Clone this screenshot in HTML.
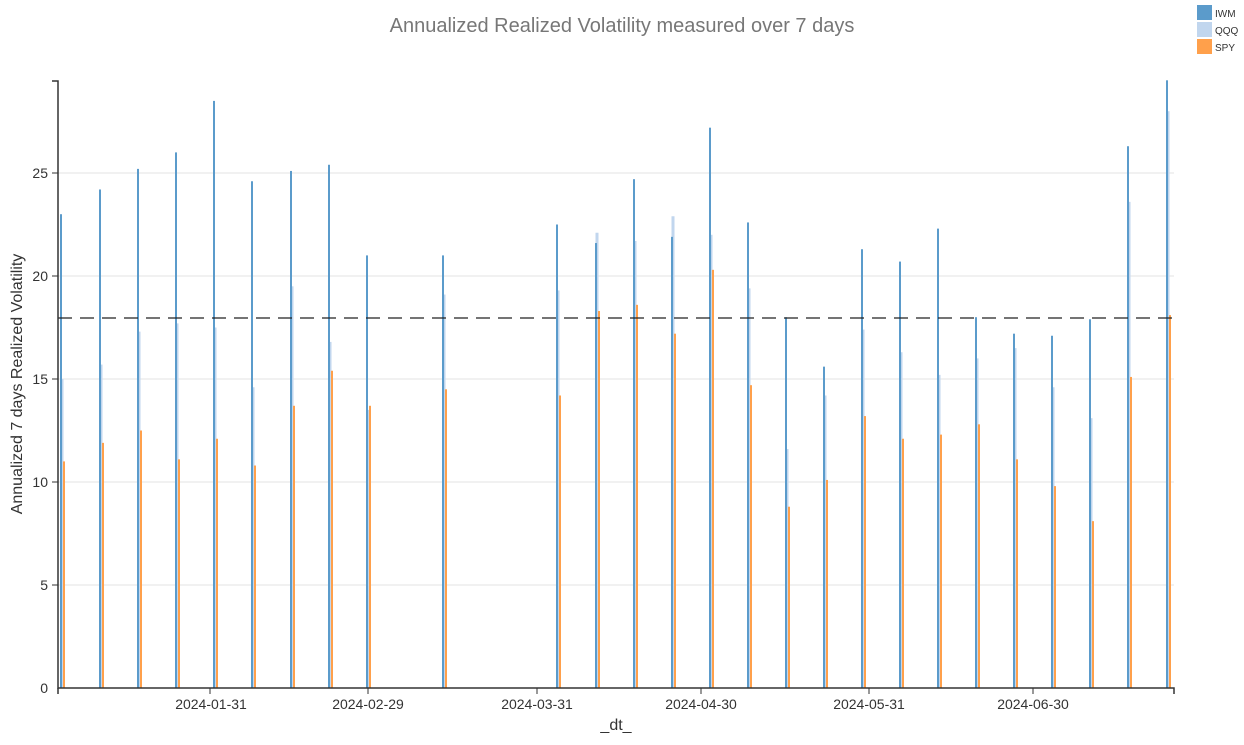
<!DOCTYPE html>
<html><head><meta charset="utf-8"><style>
body{margin:0;background:#fff;width:1244px;height:740px;overflow:hidden;font-family:"Liberation Sans",sans-serif}
</style></head><body>
<svg id="s" width="1244" height="740" xmlns="http://www.w3.org/2000/svg" font-family="Liberation Sans, sans-serif">
<text x="622" y="32" text-anchor="middle" font-size="20" fill="#777">Annualized Realized Volatility measured over 7 days</text>
<g stroke="#e3e3e3" stroke-width="1">
<line x1="58" x2="1174" y1="585" y2="585"/><line x1="58" x2="1174" y1="482" y2="482"/>
<line x1="58" x2="1174" y1="379" y2="379"/><line x1="58" x2="1174" y1="276" y2="276"/>
<line x1="58" x2="1174" y1="173" y2="173"/>
</g>
<g id="bars"></g>
<line x1="58" x2="1174" y1="318" y2="318" stroke="#222" stroke-width="1.3" stroke-dasharray="14,8"/>
<g stroke="#333" stroke-width="1.5" fill="none">
<path d="M52,81 H58 V688 H1174 V694"/>
<path d="M58,688 V694"/>
</g>
<g font-size="14" fill="#333" text-anchor="end">
<text x="48" y="693">0</text><text x="48" y="590">5</text><text x="48" y="487">10</text>
<text x="48" y="384">15</text><text x="48" y="281">20</text><text x="48" y="178">25</text>
</g>
<g stroke="#333" stroke-width="1">
<line x1="52" x2="58" y1="585" y2="585"/><line x1="52" x2="58" y1="482" y2="482"/><line x1="52" x2="58" y1="379" y2="379"/>
<line x1="52" x2="58" y1="276" y2="276"/><line x1="52" x2="58" y1="173" y2="173"/>
<line x1="210" x2="210" y1="688" y2="694"/><line x1="368" x2="368" y1="688" y2="694"/><line x1="537" x2="537" y1="688" y2="694"/>
<line x1="701" x2="701" y1="688" y2="694"/><line x1="869" x2="869" y1="688" y2="694"/><line x1="1033" x2="1033" y1="688" y2="694"/>
</g>
<g font-size="14" fill="#333" text-anchor="middle">
<text x="211" y="709">2024-01-31</text><text x="368" y="709">2024-02-29</text><text x="537" y="709">2024-03-31</text>
<text x="701" y="709">2024-04-30</text><text x="869" y="709">2024-05-31</text><text x="1033" y="709">2024-06-30</text>
</g>
<text x="616" y="730" text-anchor="middle" font-size="16" fill="#333">_dt_</text>
<text transform="translate(22,384) rotate(-90)" text-anchor="middle" font-size="16" fill="#333">Annualized 7 days Realized Volatility</text>
<rect x="1197" y="5" width="15" height="15" fill="#5b9bcb"/>
<rect x="1197" y="22" width="15" height="15" fill="#c1d6ee"/>
<rect x="1197" y="39" width="15" height="15" fill="#ffa04b"/>
<g font-size="10" fill="#333"><text x="1215" y="17">IWM</text><text x="1215" y="34">QQQ</text><text x="1215" y="51">SPY</text></g>
</svg>
<script>
var d=[[61,23.0,15,11.0],[100,24.2,15.7,11.9],[138,25.2,17.3,12.5],[176,26.0,17.7,11.1],[214,28.5,17.5,12.1],[252,24.6,14.6,10.8],[291,25.1,19.5,13.7],[329,25.4,16.8,15.4],[367,21.0,13.5,13.7],[443,21.0,19.1,14.5],[557,22.5,19.3,14.2],[596,21.6,22.1,18.3],[634,24.7,21.7,18.6],[672,21.9,22.9,17.2],[710,27.2,22,20.3],[748,22.6,19.4,14.7],[786,18.0,11.6,8.8],[824,15.6,14.2,10.1],[862,21.3,17.4,13.2],[900,20.7,16.3,12.1],[938,22.3,15.2,12.3],[976,18.0,16.0,12.8],[1014,17.2,16.5,11.1],[1052,17.1,14.6,9.8],[1090,17.9,13.1,8.1],[1128,26.3,23.6,15.1],[1167,29.5,28.0,18.1]];
var g=document.getElementById('bars'),h='';
function y(v){return 688-20.6*v}
d.forEach(function(r){var x=r[0];
h+='<rect x="'+(x-0.5)+'" y="'+y(r[2])+'" width="3" height="'+(20.6*r[2])+'" fill="#c1d6ee"/>';
h+='<rect x="'+(x-1)+'" y="'+y(r[1])+'" width="2" height="'+(20.6*r[1])+'" fill="#5b9bcb"/>';
h+='<rect x="'+(x+2)+'" y="'+y(r[3])+'" width="2" height="'+(20.6*r[3])+'" fill="#ffa04b"/>';});
g.innerHTML=h;
</script>
</body></html>
